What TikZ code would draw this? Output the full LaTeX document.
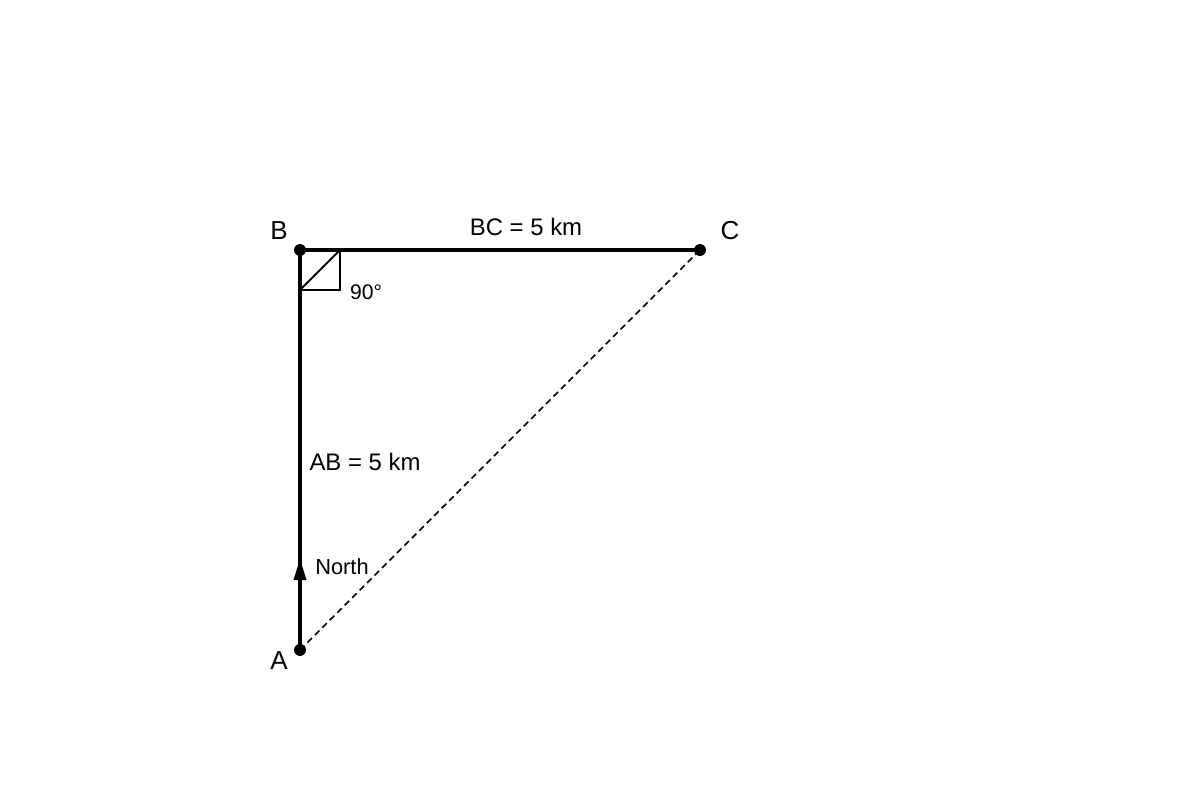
\documentclass[tikz,border=0pt]{standalone}
\usepackage{fontspec}
\setmainfont{Liberation Sans}

\begin{document}
\begin{tikzpicture}[x=0.025cm,y=-0.025cm,
	leg/.style={line width=2.25pt},
	dot/.style={circle,fill=black,inner sep=0pt,minimum size=8.5pt},
	pt/.style={font=\fontsize{18.5}{20}\selectfont},
	lbl/.style={font=\fontsize{17}{19}\selectfont}]
		\useasboundingbox (0,0) rectangle (1200,800);
		\node[dot] (A) at (300,650) {};
		\node[dot] (B) at (300,250) {};
		\node[dot] (C) at (700,250) {};
		\node[pt] (la) at (279,661) {A};
		\node[pt] (lb) at (279,231) {B};
		\node[pt] (lc) at (730,231) {C};
		\draw[leg] (A.center) -- (B.center);
		\draw[leg] (B.center) -- (C.center);
		\fill (300,559) -- (306.5,580) -- (293.5,580) -- cycle; % north arrowhead
		\draw[line width=1.2pt,dash pattern=on 4.5pt off 3pt] (A.center) -- (C.center);
		\draw[line width=1.4pt] (300,290) -- (340,290) -- (340,250) -- cycle;
		\node[lbl] (bc) at (526,227) {BC = 5 km};
		\node[lbl] (ab) at (365,462) {AB = 5 km};
		\node[font=\fontsize{15}{17}\selectfont] (ang) at (366,292) {90°};
		\node[font=\fontsize{15.5}{17}\selectfont] (north) at (342,567) {North};
	\end{tikzpicture}
\end{document}
